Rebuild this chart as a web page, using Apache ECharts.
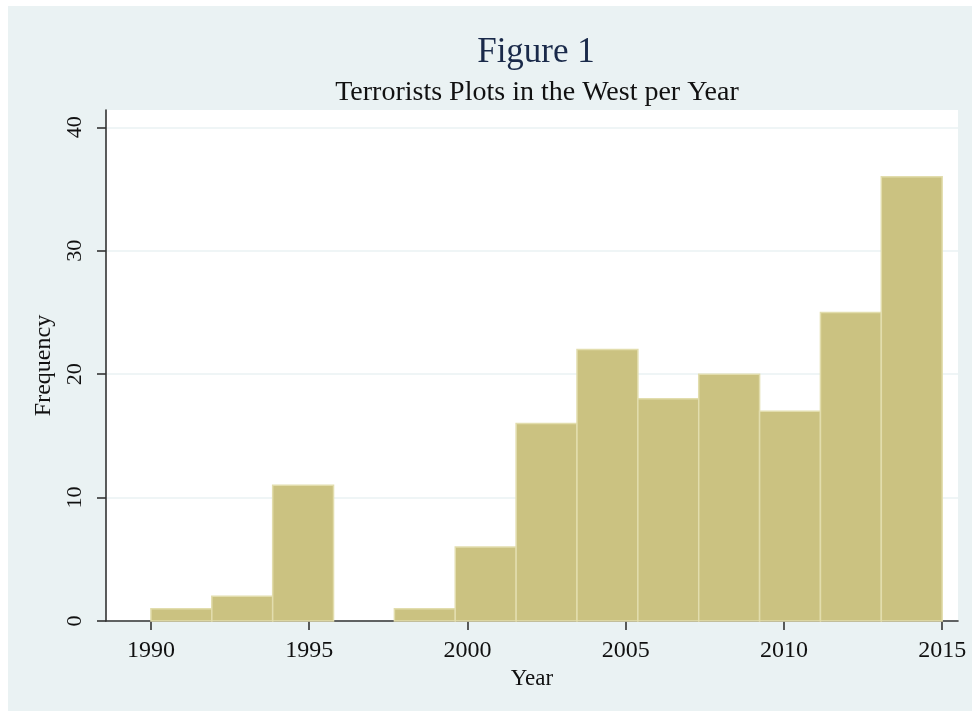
<!DOCTYPE html>
<html>
<head>
<meta charset="utf-8">
<script src="https://cdn.jsdelivr.net/npm/echarts@6/dist/echarts.min.js"></script>
<style>
  html, body { margin: 0; padding: 0; background: #ffffff; }
  #chart { position: absolute; left: 8px; top: 6px; width: 964px; height: 705px; }
</style>
</head>
<body>
<div id="chart"></div>
<script>
// ---- data ----
const titleText = 'Figure 1';
const subtitleText = 'Terrorists Plots in the West per Year';
const xName = 'Year';
const yName = 'Frequency';
const binStart = 1990;
const binEnd = 2015;
const counts = [1, 2, 11, 0, 1, 6, 16, 22, 18, 20, 17, 25, 36];
const yearTicks = [1990, 1995, 2000, 2005, 2010, 2015];
const freqTicks = [0, 10, 20, 30, 40];

// ---- build bins ----
const binWidth = (binEnd - binStart) / counts.length;
const binData = counts.map((c, i) => [binStart + i * binWidth, binStart + (i + 1) * binWidth, c]);

const FONT = '"Liberation Serif", "DejaVu Serif", serif';
const chart = echarts.init(document.getElementById('chart'));
chart.setOption({
  backgroundColor: '#EAF2F3',
  animation: false,
  title: [
    { text: titleText, left: 523, textAlign: 'center', top: 24,
      textStyle: { fontFamily: FONT, fontSize: 35, fontWeight: 'normal', color: '#1a2a4a' } },
    { text: subtitleText, left: 524, textAlign: 'center', top: 68,
      textStyle: { fontFamily: FONT, fontSize: 28, fontWeight: 'normal', color: '#111' } }
  ],
  grid: { left: 98, right: 14, top: 104, bottom: 90, show: true, backgroundColor: '#ffffff', borderWidth: 0 },
  xAxis: {
    type: 'value', min: 1988.58, max: 2015.5,
    name: xName, nameLocation: 'middle', nameGap: 42,
    nameTextStyle: { fontFamily: FONT, fontSize: 23, color: '#111' },
    axisLine: { show: true, lineStyle: { color: '#333', width: 1.6 } },
    axisTick: { show: true, length: 9, customValues: yearTicks, lineStyle: { color: '#333', width: 1.6 } },
    axisLabel: { customValues: yearTicks, formatter: v => String(v), margin: 18,
      fontFamily: FONT, fontSize: 24, color: '#111' },
    splitLine: { show: false }
  },
  yAxis: {
    type: 'value', min: 0, max: 41.4,
    name: yName, nameLocation: 'middle', nameGap: 46, nameRotate: 90,
    nameTextStyle: { fontFamily: FONT, fontSize: 24, color: '#111' },
    axisLine: { show: true, lineStyle: { color: '#333', width: 1.6 } },
    axisTick: { show: true, length: 9, customValues: freqTicks, lineStyle: { color: '#333', width: 1.6 } },
    axisLabel: { customValues: freqTicks, rotate: 90, margin: 20, fontFamily: FONT, fontSize: 22, color: '#111' },
    splitLine: { show: true, lineStyle: { color: '#EAF2F3', width: 1.5 } }
  },
  series: [{
    type: 'custom',
    data: binData,
    renderItem: function (params, api) {
      if (api.value(2) <= 0) return null;
      const p0 = api.coord([api.value(0), api.value(2)]);
      const p1 = api.coord([api.value(1), 0]);
      return {
        type: 'rect',
        shape: { x: p0[0], y: p0[1], width: p1[0] - p0[0], height: p1[1] - p0[1] },
        style: { fill: '#CBC281', stroke: '#E2DDAD', lineWidth: 1.5 }
      };
    }
  }]
});
</script>
</body>
</html>
